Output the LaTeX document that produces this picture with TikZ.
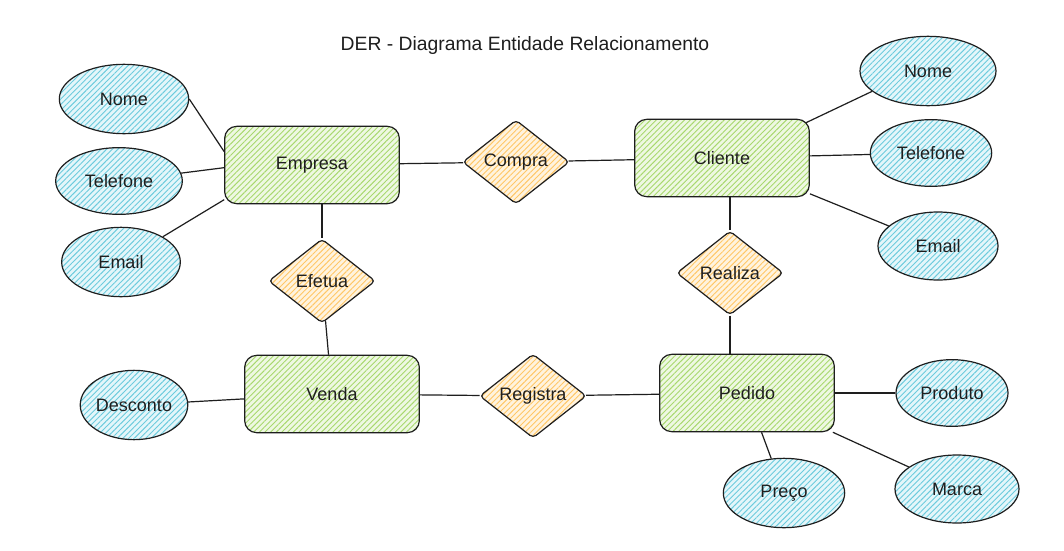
\documentclass[tikz,border=0pt]{standalone}
\usepackage{fontspec}
\setmainfont{Liberation Sans}
\usetikzlibrary{shapes.geometric,patterns.meta}
\definecolor{ink}{HTML}{1E1E1E}
\definecolor{gbg}{HTML}{EEF8E2}
\definecolor{ghatch}{HTML}{A8D86E}
\definecolor{bbg}{HTML}{E4F6FA}
\definecolor{bhatch}{HTML}{6CCBDD}
\definecolor{obg}{HTML}{FFF3DE}
\definecolor{ohatch}{HTML}{FFC766}
\tikzset{
  lbl/.style={font=\fontsize{13.5}{15}\selectfont, text=ink},
  ent/.style={lbl, draw=ink, line width=0.9pt, rounded corners=9pt, minimum width=131pt, minimum height=58pt, inner sep=0pt,
    preaction={fill=gbg}, pattern={Lines[angle=45,distance=3pt,line width=0.7pt]}, pattern color=ghatch},
  attr/.style={lbl, draw=ink, line width=0.9pt, ellipse, inner sep=0pt,
    preaction={fill=bbg}, pattern={Lines[angle=45,distance=3pt,line width=0.7pt]}, pattern color=bhatch},
  rel/.style={lbl, draw=ink, line width=0.9pt, diamond, rounded corners=3pt, minimum width=80pt, minimum height=63pt, inner sep=0pt,
    preaction={fill=obg}, pattern={Lines[angle=45,distance=3pt,line width=0.7pt]}, pattern color=ohatch},
  conn/.style={draw=ink, line width=0.9pt},
}
\begin{document}
\begin{tikzpicture}[x=0.75pt,y=-0.75pt]
\useasboundingbox (0,0) rectangle (1064,550);
\fill[white] (0,0) rectangle (1064,550);
\node[font=\fontsize{14.5}{16}\selectfont, text=ink] (title) at (525,45) {DER - Diagrama Entidade Relacionamento};

% entities
\node[ent] (emp) at (312,165) {Empresa};
\node[ent] (cli) at (722,158) {Cliente};
\node[ent] (ven) at (332,394) {Venda};
\node[ent] (ped) at (747,393) {Pedido};

% relationships
\node[rel] (compra) at (516,162) {Compra};
\node[rel] (efetua) at (322,281) {Efetua};
\node[rel] (realiza) at (730,273) {Realiza};
\node[rel] (registra) at (533,396) {Registra};

% attributes
\node[attr, minimum width=97pt, minimum height=52pt] (enome) at (124,99) {Nome};
\node[attr, minimum width=95pt, minimum height=50pt] (etel) at (119,181) {Telefone};
\node[attr, minimum width=89pt, minimum height=52pt] (eemail) at (121,262) {Email};
\node[attr, minimum width=102pt, minimum height=52pt] (cnome) at (928,71) {Nome};
\node[attr, minimum width=91pt, minimum height=50pt] (ctel) at (931,153) {Telefone};
\node[attr, minimum width=90pt, minimum height=51pt] (cemail) at (938,246) {Email};
\node[attr, minimum width=78pt, minimum height=52pt] (desc) at (134,405) {Desconto};
\node[attr, minimum width=84pt, minimum height=50pt] (prod) at (952,393) {Produto};
\node[attr, minimum width=91pt, minimum height=52pt] (preco) at (784,493) {Preço};
\node[attr, minimum width=93pt, minimum height=51pt] (marca) at (957,489) {Marca};

% connectors
\draw[conn] (emp) -- (compra);
\draw[conn] (compra) -- (cli);
\draw[conn] (emp.south -| efetua) -- (efetua);
\draw[conn] (efetua) -- (ven);
\draw[conn] (cli.south -| realiza) -- (realiza);
\draw[conn] (realiza) -- (ped.north -| realiza);
\draw[conn] (ven) -- (registra);
\draw[conn] (registra) -- (ped);

\draw[conn] (enome.east) -- ([yshift=10pt]emp.west);
\draw[conn] (etel) -- ([yshift=-2pt]emp.west);
\draw[conn] (eemail) -- ([yshift=-26pt]emp.west);
\draw[conn] ([xshift=-3pt,yshift=-3pt]cli.north east) -- (cnome.200);
\draw[conn] (cli) -- (ctel);
\draw[conn] (cli) -- (cemail);
\draw[conn] (desc) -- (ven);
\draw[conn] (ped) -- (prod);
\draw[conn] (ped) -- (preco);
\draw[conn] (ped) -- (marca);
\end{tikzpicture}
\end{document}
